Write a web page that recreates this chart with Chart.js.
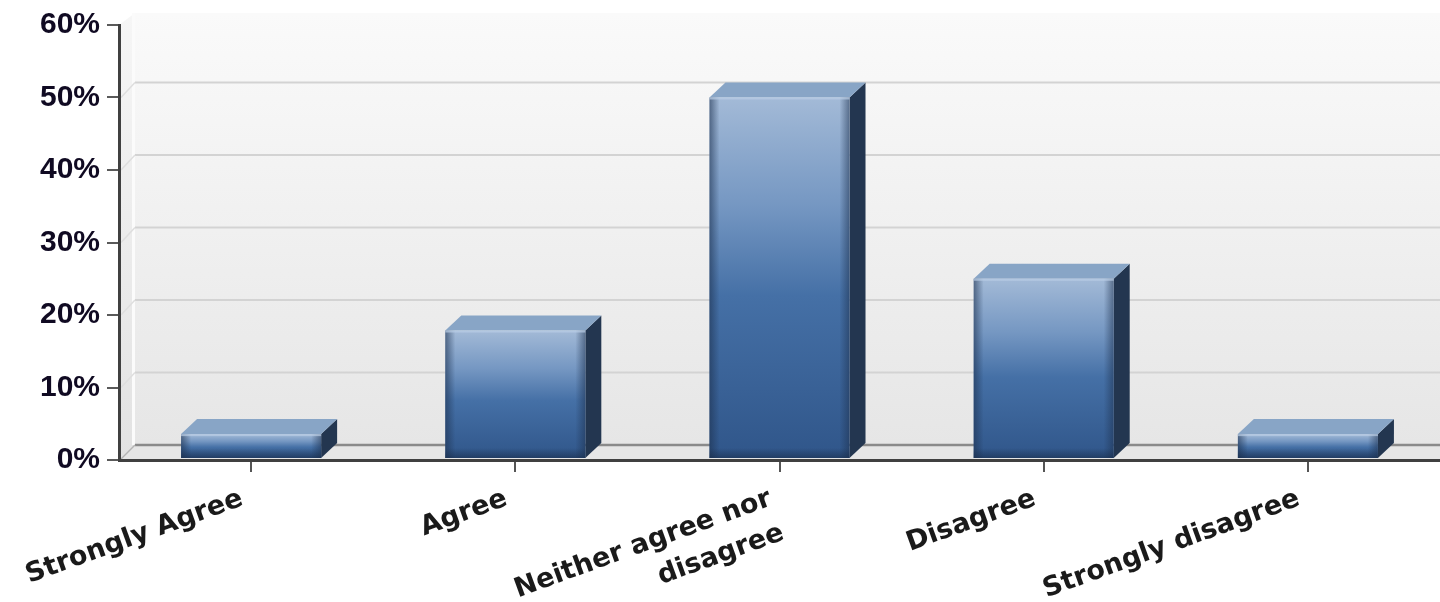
<!DOCTYPE html>
<html>
<head>
<meta charset="utf-8">
<title>Survey responses</title>
<script src="https://cdn.jsdelivr.net/npm/chart.js@4.4.1/dist/chart.umd.min.js"></script>
<style>
  html, body { margin: 0; padding: 0; background: #fff; overflow: hidden; }
  #wrap { width: 1440px; height: 602px; }
</style>
</head>
<body>
<div id="wrap"><canvas id="chart" width="1440" height="602"></canvas></div>
<script>
// Chart data
const categories = ['Strongly Agree', 'Agree', ['Neither agree nor', 'disagree'], 'Disagree', 'Strongly disagree'];
const percentages = [3.57, 17.86, 50, 25, 3.57];
const yTicks = [0, 10, 20, 30, 40, 50, 60];

// 3D depth of the walls and bars
const DX = 16;
const DY = 15;

// Back wall, side wall, floor and gridlines drawn behind everything
const wallsPlugin = {
    id: 'walls',
    beforeDraw: (chart) => {
        const { ctx, chartArea: a, scales: { y } } = chart;
        const bx = a.left + DX;
        const floorY = a.bottom - DY;
        const wallTop = a.top - 12;
        ctx.save();

        // back wall
        let g = ctx.createLinearGradient(0, wallTop, 0, floorY);
        g.addColorStop(0, '#fafafa');
        g.addColorStop(1, '#e6e6e6');
        ctx.fillStyle = g;
        ctx.fillRect(bx, wallTop, a.right - bx, floorY - wallTop);

        // left side wall
        g = ctx.createLinearGradient(0, wallTop, 0, a.bottom);
        g.addColorStop(0, '#f6f6f6');
        g.addColorStop(1, '#e2e2e2');
        ctx.fillStyle = g;
        ctx.beginPath();
        ctx.moveTo(a.left, a.top);
        ctx.lineTo(bx, wallTop);
        ctx.lineTo(bx, floorY);
        ctx.lineTo(a.left, a.bottom);
        ctx.closePath();
        ctx.fill();
        ctx.fillStyle = '#fbfbfb';
        ctx.fillRect(bx - 3, wallTop, 3, floorY - wallTop);

        // floor
        ctx.fillStyle = '#e6e6e6';
        ctx.beginPath();
        ctx.moveTo(a.left, a.bottom);
        ctx.lineTo(bx, floorY);
        ctx.lineTo(a.right, floorY);
        ctx.lineTo(a.right, a.bottom);
        ctx.closePath();
        ctx.fill();

        // gridlines on the back wall
        yTicks.forEach(v => {
            if (v === yTicks[0] || v === yTicks[yTicks.length - 1]) return;
            const py = y.getPixelForValue(v);
            ctx.strokeStyle = '#d3d3d3';
            ctx.lineWidth = 2;
            ctx.beginPath();
            ctx.moveTo(bx, py - DY);
            ctx.lineTo(a.right, py - DY);
            ctx.stroke();
            ctx.strokeStyle = '#dedede';
            ctx.lineWidth = 1.5;
            ctx.beginPath();
            ctx.moveTo(a.left + 2, py);
            ctx.lineTo(bx, py - DY);
            ctx.stroke();
        });

        // back edge of the floor
        ctx.strokeStyle = '#8a8a8a';
        ctx.lineWidth = 2.5;
        ctx.beginPath();
        ctx.moveTo(bx, floorY);
        ctx.lineTo(a.right, floorY);
        ctx.stroke();
        ctx.strokeStyle = '#b4b4b4';
        ctx.lineWidth = 1.5;
        ctx.beginPath();
        ctx.moveTo(a.left + 2, a.bottom - 1);
        ctx.lineTo(bx, floorY);
        ctx.stroke();
        ctx.restore();
    }
};

// Shaded 3D bars built on the bar elements chart.js lays out
const bars3dPlugin = {
    id: 'bars3d',
    afterDatasetsDraw: (chart) => {
        const ctx = chart.ctx;
        const meta = chart.getDatasetMeta(0);
        ctx.save();
        meta.data.forEach(bar => {
            const { x, y: top, base, width } = bar.getProps(['x', 'y', 'base', 'width'], true);
            const x1 = x - width / 2;
            const x2 = x + width / 2;
            const bottom = base - 1;

            // side face
            ctx.fillStyle = '#233650';
            ctx.beginPath();
            ctx.moveTo(x2, top);
            ctx.lineTo(x2 + DX, top - DY);
            ctx.lineTo(x2 + DX, bottom - DY);
            ctx.lineTo(x2, bottom);
            ctx.closePath();
            ctx.fill();

            // top face
            ctx.fillStyle = '#88a5c6';
            ctx.beginPath();
            ctx.moveTo(x1, top);
            ctx.lineTo(x1 + DX, top - DY);
            ctx.lineTo(x2 + DX, top - DY);
            ctx.lineTo(x2, top);
            ctx.closePath();
            ctx.fill();

            // front face
            let g = ctx.createLinearGradient(0, top, 0, bottom);
            g.addColorStop(0, '#a3bad7');
            g.addColorStop(0.3, '#7597c2');
            g.addColorStop(0.55, '#4570a6');
            g.addColorStop(1, '#30568a');
            ctx.fillStyle = g;
            ctx.fillRect(x1, top, width, bottom - top);

            // bevel shading on the edges
            g = ctx.createLinearGradient(x1, 0, x1 + 10, 0);
            g.addColorStop(0, 'rgba(30,50,80,0.6)');
            g.addColorStop(1, 'rgba(30,50,80,0)');
            ctx.fillStyle = g;
            ctx.fillRect(x1, top, 10, bottom - top);
            g = ctx.createLinearGradient(x2 - 10, 0, x2, 0);
            g.addColorStop(0, 'rgba(30,50,80,0)');
            g.addColorStop(1, 'rgba(30,50,80,0.55)');
            ctx.fillStyle = g;
            ctx.fillRect(x2 - 10, top, 10, bottom - top);
            const bh = Math.min(10, (bottom - top) / 2);
            g = ctx.createLinearGradient(0, bottom - bh, 0, bottom);
            g.addColorStop(0, 'rgba(25,45,75,0)');
            g.addColorStop(1, 'rgba(25,45,75,0.6)');
            ctx.fillStyle = g;
            ctx.fillRect(x1, bottom - bh, width, bh);

            ctx.fillStyle = 'rgba(185,205,230,0.7)';
            ctx.fillRect(x1, top, width, 2);
        });
        ctx.restore();
    }
};

const chart = new Chart(document.getElementById('chart'), {
    type: 'bar',
    data: {
        labels: categories,
        datasets: [{
            data: percentages,
            backgroundColor: 'rgba(0,0,0,0)',
            borderWidth: 0,
            barPercentage: 0.53,
            categoryPercentage: 1.0
        }]
    },
    options: {
        responsive: false,
        animation: false,
        events: [],
        layout: { padding: { top: 24, right: 0, bottom: 0, left: 0 } },
        plugins: {
            legend: { display: false },
            tooltip: { enabled: false }
        },
        scales: {
            x: {
                grid: { offset: false, drawOnChartArea: false, tickLength: 12, color: '#555', lineWidth: 2 },
                border: { color: '#404040', width: 3 },
                ticks: {
                    autoSkip: false,
                    minRotation: 20,
                    maxRotation: 20,
                    padding: 9,
                    labelOffset: -9,
                    color: '#1a1a1a',
                    font: { family: 'DejaVu Sans', size: 27, weight: 'bold', lineHeight: 1.35 }
                },
                afterFit: (s) => {
                    s.height = 142;
                    s.paddingLeft = 0;
                    s.paddingRight = 0;
                }
            },
            y: {
                min: yTicks[0],
                max: yTicks[yTicks.length - 1],
                grid: { drawOnChartArea: false, tickLength: 12, color: '#5a5a5a', lineWidth: 2 },
                border: { color: '#404040', width: 3 },
                ticks: {
                    stepSize: yTicks[1] - yTicks[0],
                    padding: 7,
                    color: '#100a22',
                    font: { family: 'Liberation Sans', size: 30, weight: 'bold' },
                    callback: (v) => v + '%'
                },
                afterFit: (s) => {
                    s.width = 119;
                }
            }
        }
    },
    plugins: [wallsPlugin, bars3dPlugin]
});
</script>
</body>
</html>
